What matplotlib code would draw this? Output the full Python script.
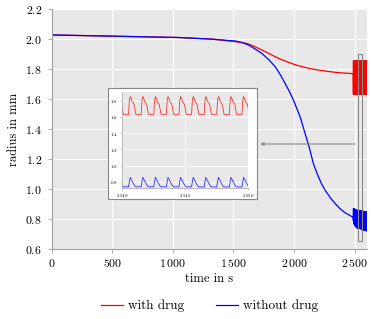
import numpy as np
import matplotlib
matplotlib.use('Agg')
import matplotlib.pyplot as plt
from matplotlib.patches import Rectangle

plt.rcParams['font.family'] = ['cmr10', 'DejaVu Serif']
plt.rcParams['mathtext.fontset'] = 'cm'

# slow part of the curves (time in s, radius in mm)
t_red = [0, 0, 3, 500, 1045, 1322, 1487, 1583, 1624, 1679, 1734, 1789, 1844, 1898, 1953, 2008, 2064,
         2130, 2201, 2270, 2338, 2410, 2489]
r_red = [1.0, 2.027, 2.027, 2.019, 2.01, 1.999, 1.985, 1.975, 1.967, 1.948, 1.927, 1.905, 1.882, 1.862,
         1.845, 1.829, 1.816, 1.803, 1.793, 1.785, 1.778, 1.773, 1.769]

t_blue = [0, 0, 3, 500, 1045, 1322, 1487, 1514, 1570, 1624, 1679, 1734, 1789, 1844, 1885, 1926, 1962,
          1995, 2022, 2050, 2070, 2091, 2107, 2124, 2141, 2159, 2179, 2201, 2228, 2256, 2297, 2338,
          2379, 2421, 2489]
r_blue = [1.0, 2.027, 2.027, 2.019, 2.01, 1.999, 1.988, 1.987, 1.976, 1.96, 1.933, 1.904, 1.864, 1.816,
          1.764, 1.704, 1.649, 1.593, 1.538, 1.482, 1.427, 1.371, 1.327, 1.282, 1.227, 1.171, 1.127,
          1.082, 1.033, 0.993, 0.944, 0.904, 0.869, 0.842, 0.811]

# one heartbeat cycle (offset in s, radius)
cycle_t = [0.00, 0.06, 0.13, 0.20, 0.28, 0.36, 0.44, 0.52, 0.58, 1.00]
red_cycle = [1.632, 1.80, 1.852, 1.83, 1.79, 1.775, 1.75, 1.68, 1.632, 1.632]
blue_cycle = [0.738, 0.80, 0.855, 0.835, 0.81, 0.785, 0.762, 0.744, 0.738, 0.738]

osc_start = 2490.5
n_cycles = 110

# drift of the blue band (time, lower edge, upper edge)
blue_env_t = [2490, 2500, 2520, 2545, 2600]
blue_env_lo = [0.79, 0.76, 0.742, 0.738, 0.722]
blue_env_hi = [0.87, 0.862, 0.857, 0.855, 0.845]


def tile(vals):
    t = np.concatenate([osc_start + k + np.array(cycle_t) for k in range(n_cycles)])
    v = np.tile(vals, n_cycles)
    return t, v


t_osc, red_osc = tile(red_cycle)
_, blue_norm = tile((np.array(blue_cycle) - blue_cycle[0]) / (max(blue_cycle) - blue_cycle[0]))
lo = np.interp(t_osc, blue_env_t, blue_env_lo)
hi = np.interp(t_osc, blue_env_t, blue_env_hi)
blue_osc = lo + blue_norm * (hi - lo)

t_r = np.concatenate([t_red, t_osc])
y_r = np.concatenate([r_red, red_osc])
t_b = np.concatenate([t_blue, t_osc])
y_b = np.concatenate([r_blue, blue_osc])

bg = '#e8e8e8'
axcol = '#a0a0a0'

fig = plt.figure(figsize=(3.71, 3.19), dpi=100)
ax = fig.add_axes([0.1394, 0.2194, 0.8491, 0.7524])
ax.set_facecolor(bg)
ax.plot(t_r, y_r, color='#ff0000', lw=0.9, label='with drug')
ax.plot(t_b, y_b, color='#0000ff', lw=0.9, label='without drug')
ax.set_xlim(0, 2600)
ax.set_ylim(0.6, 2.2)
xt = [0, 500, 1000, 1500, 2000, 2500]
ax.set_xticks(xt)
ax.set_xticklabels(['$0$', '$500$', r'$1\,000$', r'$1\,500$', r'$2\,000$', r'$2\,500$'])
yt = np.arange(0.6, 2.21, 0.2)
ax.set_yticks(yt)
ax.set_yticklabels(['$%.1f$' % v for v in yt])
ax.grid(True, color='white', lw=0.8)
ax.set_axisbelow(True)
for s in ['top', 'right']:
    ax.spines[s].set_visible(False)
for s in ['left', 'bottom']:
    ax.spines[s].set_color(axcol)
    ax.spines[s].set_linewidth(0.8)
ax.tick_params(colors=axcol, labelcolor='black', labelsize=8.5, length=3, width=0.6)
ax.tick_params(axis='x', pad=3)
ax.tick_params(axis='y', pad=4)
ax.set_xlabel('time in s', fontsize=9)
ax.set_ylabel('radius in mm', fontsize=9)
ax.xaxis.set_label_coords(0.5, -0.125)
ax.xaxis.label.set_va('center')
ax.yaxis.set_label_coords(-0.119, 0.5)
ax.yaxis.label.set_va('center')

# zoom marker and arrow
ax.add_patch(Rectangle((2525, 0.652), 38, 1.251, fill=False, ec='#888888', lw=0.8, zorder=5))
ax.annotate('', xy=(1698, 1.30), xytext=(2525, 1.30),
            arrowprops=dict(arrowstyle='-|>', color='#888888', lw=0.8, mutation_scale=5))

leg = ax.legend(loc='center', bbox_to_anchor=(0.5, -0.2375), ncol=2, frameon=False,
                fontsize=9.5, handlelength=1.7, handletextpad=0.35, columnspacing=2.4)

# inset
box = fig.add_axes([0.2903, 0.3752, 0.4032, 0.3498])
box.set_facecolor('white')
box.set_xticks([])
box.set_yticks([])
for s in box.spines.values():
    s.set_color('#888888')
    s.set_linewidth(0.8)

ins = fig.add_axes([0.3296, 0.4097, 0.3396, 0.3009])
ins.set_facecolor(bg)
ins.plot(t_r, y_r, color='#ff3030', lw=0.6)
ins.plot(t_b, y_b, color='#3030ff', lw=0.6)
ins.set_xlim(2540, 2550)
ins.set_ylim(0.72, 1.904)
ins.set_xticks([2540, 2545, 2550])
ins.set_xticklabels([r'$2\,540$', r'$2\,545$', r'$2\,550$'])
ins.set_yticks([0.8, 1.0, 1.2, 1.4, 1.6, 1.8])
ins.set_yticklabels(['$0.8$', '$1.0$', '$1.2$', '$1.4$', '$1.6$', '$1.8$'])
ins.grid(True, color='white', lw=0.5)
ins.set_axisbelow(True)
for s in ['top', 'right']:
    ins.spines[s].set_visible(False)
for s in ['left', 'bottom']:
    ins.spines[s].set_color(axcol)
    ins.spines[s].set_linewidth(0.5)
ins.tick_params(colors=axcol, labelcolor='black', labelsize=3.5, length=1.5, width=0.4, pad=1.5)

fig.savefig('out.png', dpi=100)
